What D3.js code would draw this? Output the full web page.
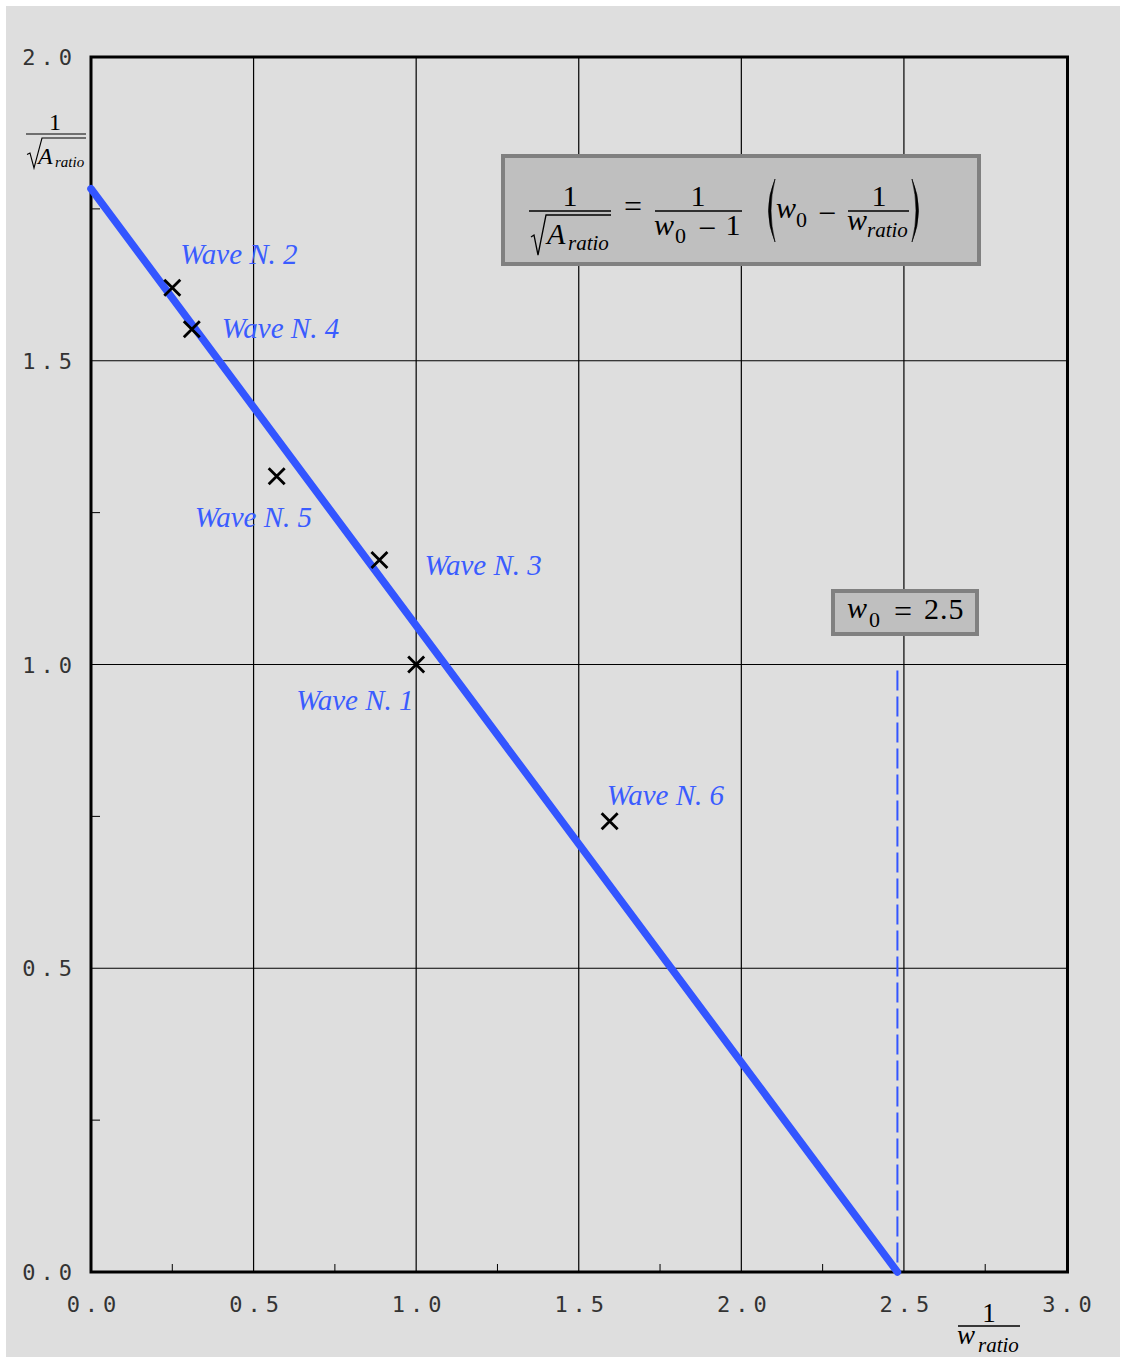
<!DOCTYPE html>
<html><head><meta charset="utf-8">
<script src="https://cdn.jsdelivr.net/npm/d3@7"></script>
<style>html,body{margin:0;padding:0;background:#fff;} svg{display:block;}</style>
</head><body>
<script>
// ---- data ----
const waveNames = ["Wave N. 1","Wave N. 2","Wave N. 3","Wave N. 4","Wave N. 5","Wave N. 6"];
const waveX = [1.0, 0.25, 0.887, 0.31, 0.571, 1.595];
const waveY = [1.0, 1.62, 1.172, 1.552, 1.31, 0.742];
const labelDx = [-120, 8, 45, 30, -82, -3];
const labelDy = [45, -24, 15, 9, 51, -16];
const fitX = [0, 2.48];
const fitY = [1.783, 0];
const dashX = [2.48, 2.48];
const dashY = [0.99, 0];
const xTicks = [0, 0.5, 1.0, 1.5, 2.0, 2.5, 3.0];
const yTicks = [0, 0.5, 1.0, 1.5, 2.0];
const xMinor = [0.25, 0.75, 1.25, 1.75, 2.25, 2.75];
const yMinor = [0.25, 0.75, 1.25, 1.75];

const W = 1123, H = 1357;
const svg = d3.select("body").append("svg").attr("width", W).attr("height", H);
svg.append("rect").attr("x", 6).attr("y", 6).attr("width", 1114).attr("height", 1351).attr("fill", "#dedede");

const x = d3.scaleLinear().domain([0, 3]).range([91, 1066.5]);
const y = d3.scaleLinear().domain([0, 2]).range([1272, 57]);

// grid
const g = svg.append("g");
g.selectAll(".gx").data(xTicks.slice(1, -1)).join("line")
  .attr("x1", d => x(d)).attr("x2", d => x(d)).attr("y1", y(0)).attr("y2", y(2))
  .attr("stroke", "#000").attr("stroke-width", 1.2);
g.selectAll(".gy").data(yTicks.slice(1, -1)).join("line")
  .attr("x1", x(0)).attr("x2", x(3)).attr("y1", d => y(d)).attr("y2", d => y(d))
  .attr("stroke", "#000").attr("stroke-width", 1.2);
// minor ticks
g.selectAll(".mx").data(xMinor).join("line")
  .attr("x1", d => x(d)).attr("x2", d => x(d)).attr("y1", y(0)).attr("y2", y(0) - 8)
  .attr("stroke", "#000").attr("stroke-width", 1);
g.selectAll(".my").data(yMinor).join("line")
  .attr("x1", x(0)).attr("x2", x(0) + 9).attr("y1", d => y(d)).attr("y2", d => y(d))
  .attr("stroke", "#000").attr("stroke-width", 1);
// frame
svg.append("rect").attr("x", x(0)).attr("y", y(2)).attr("width", x(3) - x(0) + 1).attr("height", y(0) - y(2))
  .attr("fill", "none").attr("stroke", "#000").attr("stroke-width", 3);

// tick labels
const tickFont = "'DejaVu Sans Mono', monospace";
svg.selectAll(".xl").data(xTicks).join("text")
  .attr("x", d => x(d) + 3).attr("y", 1312).attr("text-anchor", "middle")
  .attr("font-family", tickFont).attr("font-size", 22).attr("letter-spacing", 5).attr("fill", "#333")
  .text(d => d.toFixed(1));
svg.selectAll(".yl").data(yTicks).join("text")
  .attr("x", 77).attr("y", d => y(d) + 8).attr("text-anchor", "end")
  .attr("font-family", tickFont).attr("font-size", 22).attr("letter-spacing", 5).attr("fill", "#333")
  .text(d => d.toFixed(1));

// dashed vertical
const line = d3.line().x(d => x(d[0])).y(d => y(d[1]));
svg.append("path").attr("d", line(d3.zip(dashX, dashY)))
  .attr("stroke", "#3355ff").attr("stroke-width", 2).attr("stroke-dasharray", "20,6").attr("fill", "none");
// fit line
svg.append("path").attr("d", line(d3.zip(fitX, fitY)))
  .attr("stroke", "#3355ff").attr("stroke-width", 7.5).attr("stroke-linecap", "round").attr("fill", "none");

// markers
const s = 8;
svg.selectAll(".mk").data(d3.range(waveX.length)).join("path")
  .attr("d", i => {
    const px = x(waveX[i]), py = y(waveY[i]);
    return `M${px - s},${py - s}L${px + s},${py + s}M${px - s},${py + s}L${px + s},${py - s}`;
  })
  .attr("stroke", "#000").attr("stroke-width", 2.8).attr("fill", "none");

// labels
const serif = "'Liberation Serif', 'Times New Roman', serif";
svg.selectAll(".wl").data(d3.range(waveX.length)).join("text")
  .attr("x", i => x(waveX[i]) + labelDx[i]).attr("y", i => y(waveY[i]) + labelDy[i])
  .attr("font-family", serif).attr("font-style", "italic").attr("font-size", 29).attr("fill", "#3a5cff")
  .text(i => waveNames[i]);

// ---- math helpers ----
function txt(xp, yp, str, size, italic, anchor) {
  return svg.append("text").attr("x", xp).attr("y", yp).attr("font-family", serif)
    .attr("font-size", size).attr("font-style", italic ? "italic" : "normal")
    .attr("text-anchor", anchor || "start").attr("fill", "#000").text(str);
}
function hline(x1, x2, yy, w) {
  svg.append("line").attr("x1", x1).attr("x2", x2).attr("y1", yy).attr("y2", yy)
    .attr("stroke", "#000").attr("stroke-width", w || 1.3);
}
function radical(x0, yTop, yBot, xEnd, w) {
  svg.append("path").attr("d",
    `M${x0},${yBot - 18 * (yBot - yTop) / 40}L${x0 + 3},${yBot - 20 * (yBot - yTop) / 40}L${x0 + 7},${yBot}L${x0 + 15},${yTop}L${xEnd},${yTop}`)
    .attr("fill", "none").attr("stroke", "#000").attr("stroke-width", w || 1.3);
}
function paren(xOut, xIn, y1, y2) {
  const ym = (y1 + y2) / 2;
  const k = xIn < xOut ? 1 : -1;
  svg.append("path").attr("d",
    `M${xOut},${y1}Q${xIn - 2 * k},${ym} ${xOut},${y2}Q${xIn + 3 * k},${ym} ${xOut},${y1}Z`)
    .attr("fill", "#000").attr("stroke", "#000").attr("stroke-width", 0.6);
}

// formula box
svg.append("rect").attr("x", 503).attr("y", 156).attr("width", 476).attr("height", 108)
  .attr("fill", "#bfbfbf").attr("stroke", "#808080").attr("stroke-width", 4);
txt(570, 206, "1", 30, false, "middle");
hline(529, 611, 211);
radical(531, 215, 255, 611);
txt(547, 244, "A", 30, true);
txt(568, 250, "ratio", 21, true);
txt(633, 217, "=", 32, false, "middle");
txt(698, 206, "1", 30, false, "middle");
hline(655, 742, 211);
txt(654, 235, "w", 30, true);
txt(675, 243, "0", 22, false);
txt(707, 239, "−", 32, false, "middle");
txt(733, 235, "1", 30, false, "middle");
paren(775, 764, 179, 242);
txt(776, 218, "w", 30, true);
txt(796, 227, "0", 22, false);
txt(827, 224, "−", 32, false, "middle");
txt(879, 206, "1", 30, false, "middle");
hline(848, 909, 211);
txt(847, 230, "w", 30, true);
txt(867, 237, "ratio", 21, true);
paren(912, 923, 179, 242);

// w0 box
svg.append("rect").attr("x", 833).attr("y", 591).attr("width", 144).attr("height", 43)
  .attr("fill", "#bfbfbf").attr("stroke", "#808080").attr("stroke-width", 4);
txt(847, 618, "w", 30, true);
txt(869, 627, "0", 22, false);
txt(903, 622, "=", 32, false, "middle");
txt(924, 619, "2.5", 30, false).attr("letter-spacing", 1);

// y axis label
txt(55, 130, "1", 24, false, "middle");
hline(26, 86, 134, 1.2);
radical(27, 138, 168, 86, 1.1);
txt(38, 164, "A", 24, true);
txt(55, 167, "ratio", 15, true);

// x axis label
txt(989, 1322, "1", 27, false, "middle");
hline(958, 1020, 1326, 1.3);
txt(957, 1344, "w", 27, true);
txt(978, 1352, "ratio", 21, true);
</script>
</body></html>
